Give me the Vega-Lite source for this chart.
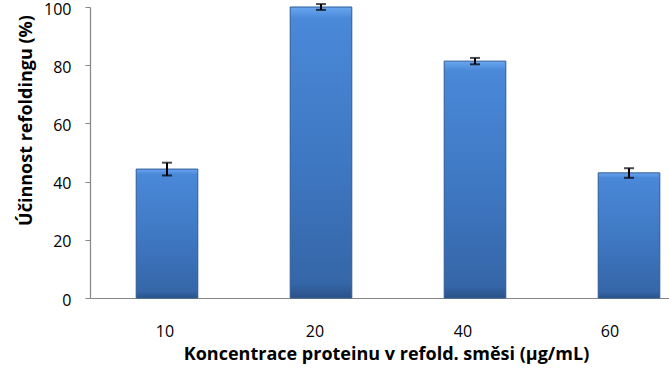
{
  "$schema": "https://vega.github.io/schema/vega-lite/v6.json",
  "autosize": "none",
  "width": 579,
  "height": 291,
  "padding": {"left": 90, "top": 7, "right": 0, "bottom": 74},
  "background": "white",
  "config": {"view": {"stroke": null}, "font": "Open Sans"},
  "data": {
    "values": [
      {"konc": "10", "ucinnost": 44.3, "lo": 42.1, "hi": 46.5},
      {"konc": "20", "ucinnost": 100.0, "lo": 99.0, "hi": 101.0},
      {"konc": "40", "ucinnost": 81.4, "lo": 80.3, "hi": 82.5},
      {"konc": "60", "ucinnost": 43.0, "lo": 41.3, "hi": 44.6}
    ]
  },
  "encoding": {
    "x": {
      "field": "konc",
      "type": "nominal",
      "sort": null,
      "scale": {"range": [0, 616], "paddingInner": 0.6, "paddingOuter": 0.3},
      "axis": {
        "title": "Koncentrace proteinu v refold. směsi (µg/mL)",
        "titleFont": "Open Sans",
        "titleFontSize": 18,
        "titleFontWeight": "bold",
        "titleColor": "#000000",
        "titlePadding": 6,
        "titleX": 296,
        "labelAngle": 0,
        "labelFont": "Open Sans",
        "labelFontSize": 16,
        "labelColor": "#000000",
        "labelPadding": 25,
        "labelOffset": {"expr": "datum.value == '10' ? -2 : datum.value == '20' ? -6 : datum.value == '40' ? -12 : -19"},
        "ticks": false,
        "domainColor": "#868686",
        "domainWidth": 1.2
      }
    }
  },
  "layer": [
    {
      "mark": {
        "type": "bar",
        "stroke": "#2d5a93",
        "strokeWidth": 1,
        "color": {
          "gradient": "linear",
          "x1": 0, "y1": 0, "x2": 0, "y2": 1,
          "stops": [
            {"offset": 0, "color": "#6aa6f0"},
            {"offset": 0.04, "color": "#4a88d8"},
            {"offset": 0.5, "color": "#3f79c4"},
            {"offset": 0.95, "color": "#3566a8"},
            {"offset": 1, "color": "#2a5288"}
          ]
        }
      },
      "encoding": {
        "y": {
          "field": "ucinnost",
          "type": "quantitative",
          "scale": {"domain": [0, 100], "nice": false},
          "axis": {
            "title": "Účinnost refoldingu (%)",
            "titleFont": "Open Sans",
            "titleFontSize": 18,
            "titleFontWeight": "bold",
            "titleColor": "#000000",
            "titleY": 113,
            "titlePadding": 8,
            "values": [0, 20, 40, 60, 80, 100],
            "grid": false,
            "labelFont": "Open Sans",
            "labelFontSize": 16,
            "labelColor": "#000000",
            "labelPadding": 14,
            "labelOffset": 2,
            "tickSize": 5,
            "tickColor": "#868686",
            "domainColor": "#868686",
            "domainWidth": 1.2
          }
        }
      }
    },
    {
      "mark": {"type": "rule", "color": "#000000", "strokeWidth": 2},
      "encoding": {
        "y": {"field": "lo", "type": "quantitative"},
        "y2": {"field": "hi"}
      }
    },
    {
      "mark": {"type": "tick", "color": "#000000", "thickness": 2, "size": 10},
      "encoding": {"y": {"field": "lo", "type": "quantitative"}}
    },
    {
      "mark": {"type": "tick", "color": "#000000", "thickness": 2, "size": 10},
      "encoding": {"y": {"field": "hi", "type": "quantitative"}}
    }
  ]
}
